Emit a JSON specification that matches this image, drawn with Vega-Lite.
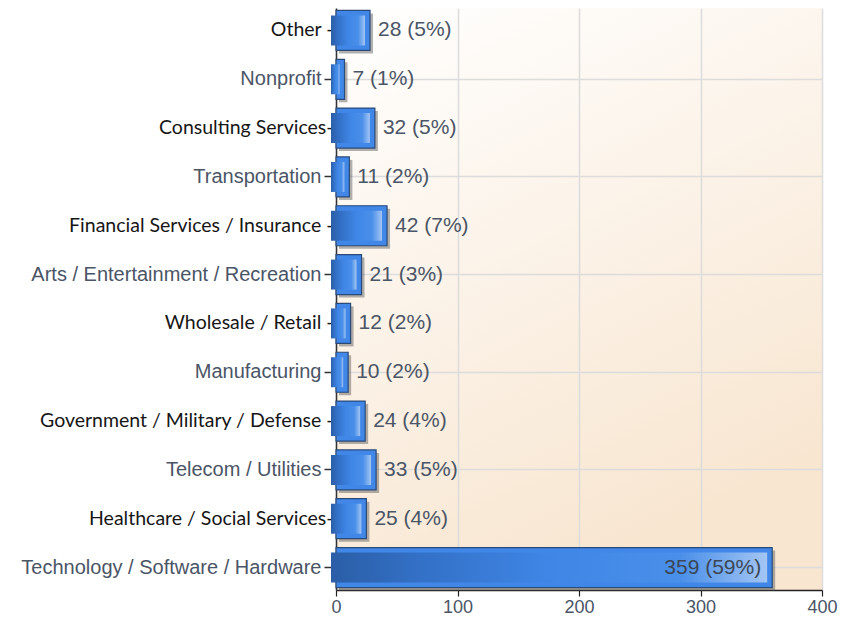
{
  "$schema": "https://vega.github.io/schema/vega-lite/v6.json",
  "width": 486,
  "height": 582,
  "autosize": "none",
  "padding": {"left": 336, "top": 8, "right": 28, "bottom": 28},
  "background": "white",
  "config": {
    "view": {
      "stroke": null,
      "fill": {"gradient": "linear", "x1": 0, "y1": 0, "x2": 0.4, "y2": 1, "stops": [{"offset": 0, "color": "#ffffff"}, {"offset": 1, "color": "#f8e6d1"}]}
    }
  },
  "data": {
    "values": [
      {"sector": "Other", "count": 28, "label": "28 (5%)"},
      {"sector": "Nonprofit", "count": 7, "label": "7 (1%)"},
      {"sector": "Consulting Services", "count": 32, "label": "32 (5%)"},
      {"sector": "Transportation", "count": 11, "label": "11 (2%)"},
      {"sector": "Financial Services / Insurance", "count": 42, "label": "42 (7%)"},
      {"sector": "Arts / Entertainment / Recreation", "count": 21, "label": "21 (3%)"},
      {"sector": "Wholesale / Retail", "count": 12, "label": "12 (2%)"},
      {"sector": "Manufacturing", "count": 10, "label": "10 (2%)"},
      {"sector": "Government / Military / Defense", "count": 24, "label": "24 (4%)"},
      {"sector": "Telecom / Utilities", "count": 33, "label": "33 (5%)"},
      {"sector": "Healthcare / Social Services", "count": 25, "label": "25 (4%)"},
      {"sector": "Technology / Software / Hardware", "count": 359, "label": "359 (59%)"}
    ]
  },
  "encoding": {
    "y": {
      "field": "sector",
      "type": "nominal",
      "sort": null,
      "scale": {"paddingInner": 0.18, "paddingOuter": 0.05},
      "axis": {
        "title": null,
        "domainColor": "#333333",
        "domainWidth": 1.5,
        "tickSize": 12,
        "tickWidth": 1.5,
        "tickColor": {"condition": {"test": "datum.value == 'Other' || datum.value == 'Consulting Services' || datum.value == 'Financial Services / Insurance' || datum.value == 'Wholesale / Retail' || datum.value == 'Government / Military / Defense' || datum.value == 'Healthcare / Social Services'", "value": "transparent"}, "value": "#333333"},
        "labelPadding": {"condition": {"test": "datum.value == 'Other' || datum.value == 'Consulting Services' || datum.value == 'Financial Services / Insurance' || datum.value == 'Wholesale / Retail' || datum.value == 'Government / Military / Defense' || datum.value == 'Healthcare / Social Services'", "value": -9}, "value": 3},
        "labelColor": {"condition": {"test": "datum.value == 'Other' || datum.value == 'Consulting Services' || datum.value == 'Financial Services / Insurance' || datum.value == 'Wholesale / Retail' || datum.value == 'Government / Military / Defense' || datum.value == 'Healthcare / Social Services'", "value": "#161616"}, "value": "#4a5566"},
        "labelFont": {"condition": {"test": "datum.value == 'Other' || datum.value == 'Consulting Services' || datum.value == 'Financial Services / Insurance' || datum.value == 'Wholesale / Retail' || datum.value == 'Government / Military / Defense' || datum.value == 'Healthcare / Social Services'", "value": "Lato"}, "value": "Liberation Sans"},
        "labelFontSize": {"condition": {"test": "datum.value == 'Other' || datum.value == 'Consulting Services' || datum.value == 'Financial Services / Insurance' || datum.value == 'Wholesale / Retail' || datum.value == 'Government / Military / Defense' || datum.value == 'Healthcare / Social Services'", "value": 19.5}, "value": 20},
        "labelExpr": "(datum.value == 'Consulting Services' || datum.value == 'Healthcare / Social Services') ? datum.value + '-' : ((datum.value == 'Other' || datum.value == 'Financial Services / Insurance' || datum.value == 'Wholesale / Retail' || datum.value == 'Government / Military / Defense') ? datum.value + ' -' : datum.value)",
        "labelLimit": 400,
        "grid": true,
        "gridColor": {"condition": {"test": "datum.value == 'Nonprofit' || datum.value == 'Transportation' || datum.value == 'Arts / Entertainment / Recreation' || datum.value == 'Manufacturing' || datum.value == 'Telecom / Utilities' || datum.value == 'Technology / Software / Hardware'", "value": "#dcdcdc"}, "value": "transparent"},
        "gridWidth": 1.5
      }
    }
  },
  "layer": [
    {
      "mark": {"type": "bar", "size": 40, "color": "#555555", "opacity": 0.45, "xOffset": 3, "x2Offset": 3, "yOffset": 3},
      "encoding": {
        "x": {
          "field": "count",
          "type": "quantitative",
          "scale": {"domain": [0, 400], "nice": false},
          "axis": {
            "title": null,
            "values": [0, 100, 200, 300, 400],
            "labelFlush": false,
            "domainColor": "#222222",
            "domainWidth": 1.5,
            "tickColor": "#222222",
            "tickSize": 6,
            "tickWidth": 1.2,
            "labelFont": "Liberation Sans",
            "labelFontSize": 18,
            "labelColor": "#4a5566",
            "labelPadding": 2,
            "grid": true,
            "gridColor": "#dcdcdc",
            "gridWidth": 1.5
          }
        }
      }
    },
    {
      "mark": {"type": "bar", "size": 40, "color": "#4187e8", "stroke": "#2a4a78", "strokeWidth": 1.2},
      "encoding": {"x": {"field": "count", "type": "quantitative"}}
    },
    {
      "mark": {
        "type": "bar",
        "size": 30,
        "xOffset": -5,
        "x2Offset": 5,
        "color": {"gradient": "linear", "x1": 0, "y1": 0, "x2": 1, "y2": 0, "stops": [
          {"offset": 0, "color": "#2b5ea6"},
          {"offset": 0.2, "color": "#3370c6"},
          {"offset": 0.5, "color": "#3f86e6"},
          {"offset": 0.8, "color": "#4a8fe9"},
          {"offset": 1, "color": "#a3c5f3"}
        ]}
      },
      "encoding": {"x": {"field": "count", "type": "quantitative"}}
    },
    {
      "transform": [{"filter": "datum.count < 200"}],
      "mark": {"type": "text", "align": "left", "baseline": "middle", "dx": 8, "font": "Liberation Sans", "fontSize": 21, "color": "#4a5566"},
      "encoding": {"x": {"field": "count", "type": "quantitative"}, "text": {"field": "label"}}
    },
    {
      "transform": [{"filter": "datum.count >= 200"}],
      "mark": {"type": "text", "align": "right", "baseline": "middle", "dx": -11, "font": "Liberation Sans", "fontSize": 21, "color": "#3b4756"},
      "encoding": {"x": {"field": "count", "type": "quantitative"}, "text": {"field": "label"}}
    }
  ]
}
